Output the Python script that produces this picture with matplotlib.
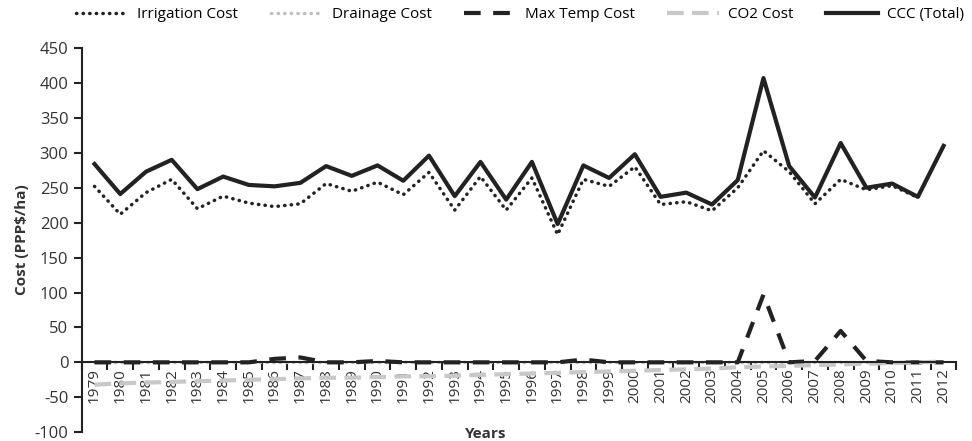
import matplotlib.pyplot as plt
import numpy as np

years = list(range(1979, 2013))

irrigation = [252, 212, 243, 262, 220, 238, 228, 223, 227, 256, 245, 258, 240, 272, 218, 266, 218,
              264, 183, 262, 252, 280, 226, 230, 217, 250, 303, 273, 227, 262, 247, 253, 236, 310]
drainage = [0] * 34
max_temp = [0, 0, 0, 0, 0, 0, 0, 5, 7, 0, 0, 2, 0, 0, 0, 0, 0,
            0, 0, 4, 0, 0, 0, 0, 0, 0, 97, 0, 2, 45, 2, 0, 0, 0]
co2 = [-32, -30, -29, -28, -27, -26, -25, -24, -23, -22, -22, -21, -20, -20, -19, -18, -17,
       -16, -15, -14, -13, -12, -11, -10, -9, -7, -6, -5, -4, -3, -2, -1, 0, 1]
ccc = [284, 241, 273, 290, 248, 266, 254, 252, 257, 281, 267, 282, 260, 296, 238, 287, 233,
       287, 198, 282, 264, 298, 237, 243, 226, 261, 407, 281, 236, 314, 250, 256, 237, 310]

plt.rcParams['font.family'] = ['Open Sans', 'DejaVu Sans']

fig = plt.figure(figsize=(9.72, 4.41), dpi=100)
ax = fig.add_axes([0.084, 0.02, 0.9, 0.871])

x = np.arange(len(years))
ax.plot(x, irrigation, color='#222222', lw=2.5, linestyle=(0, (0.1, 1.8)), dash_capstyle='round',
        label='Irrigation Cost')
ax.plot(x, drainage, color='#bfbfbf', lw=2.5, linestyle=(0, (0.1, 1.8)), dash_capstyle='round',
        label='Drainage Cost')
ax.plot(x, max_temp, color='#222222', lw=3, linestyle=(0, (4, 3)), label='Max Temp Cost')
ax.plot(x, co2, color='#c8c8c8', lw=3, linestyle=(0, (4, 2)), label='CO2 Cost')
ax.plot(x, ccc, color='#222222', lw=3, label='CCC (Total)')

ax.set_xlim(-0.5, len(years) - 0.5)
ax.set_ylim(-100, 450)
ax.set_yticks(np.arange(-100, 451, 50))
ax.set_yticklabels(['-100', '-50', '0', '50', '100', '150', '200', '250', '300', '350', '400', '450'])

ax.spines['top'].set_visible(False)
ax.spines['right'].set_visible(False)
ax.spines['bottom'].set_position(('data', 0))
ax.spines['left'].set_linewidth(1.5)
ax.spines['bottom'].set_linewidth(1.5)
ax.spines['left'].set_color('#222222')
ax.spines['bottom'].set_color('#222222')

ax.set_xticks(x)
ax.set_xticklabels([str(y) for y in years], rotation=90, fontsize=11, color='#333333')
ax.set_xticks(np.arange(-0.5, len(years), 1), minor=True)
ax.tick_params(axis='x', which='major', length=0, pad=4)
ax.tick_params(axis='x', which='minor', length=6, width=1.5, color='#222222', direction='out')
ax.tick_params(axis='y', length=6, width=1.5, color='#222222', labelsize=12, labelcolor='#333333')

ax.set_ylabel('Cost (PPP$/ha)', fontsize=11, fontweight='bold', color='#333333')
fig.text(0.5, 0.0, 'Years', ha='center', va='bottom',
         fontsize=11, fontweight='bold', color='#333333')

fig.legend(loc='upper center', bbox_to_anchor=(0.535, 1.015), ncol=5, frameon=False,
           fontsize=11, handlelength=3.4, columnspacing=2.1, handletextpad=0.6)

fig.savefig('out.png', dpi=100)
